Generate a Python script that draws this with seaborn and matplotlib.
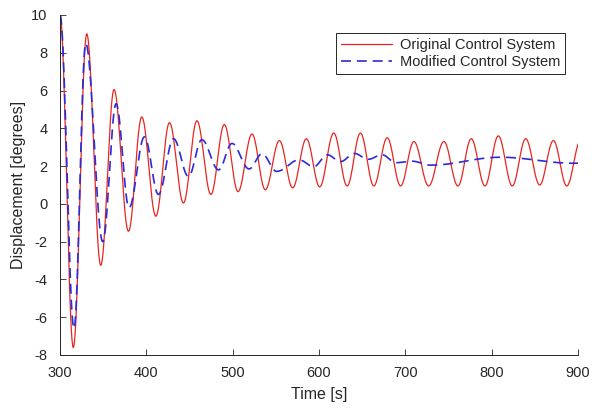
import numpy as np
import pandas as pd
import matplotlib
matplotlib.use("Agg")
import matplotlib.pyplot as plt
import seaborn as sns

# ---- data (turning points of each response) ----
orig_t = [300, 315.4, 331, 347.2, 362.6, 379.3, 394.7, 411, 426.8, 443, 458.6,
          474.8, 490.3, 506.2, 522.4, 537.8, 554.1, 569.5, 585.4, 600.8, 617.1,
          632.6, 648.0, 663.5, 679.0, 694.5, 709.9, 727, 744.7, 760.9, 776.4,
          792.2, 807.7, 823.9, 839.4, 855.6, 871.5, 887, 903]
orig_v = [10, -7.6, 9.0, -3.25, 6.05, -1.45, 4.6, -0.65, 4.3, 0.05, 4.4,
          0.5, 4.2, 0.65, 3.7, 0.75, 3.35, 0.85, 3.45, 0.9, 3.75,
          0.95, 3.75, 0.95, 3.5, 0.95, 3.3, 0.95, 3.3, 0.95, 3.45,
          0.95, 3.6, 0.95, 3.45, 1.0, 3.35, 0.95, 3.35]

mod_t = [300, 316.2, 329.8, 349.5, 365, 380, 397.8, 414, 431.5, 448.8, 464.3,
         483.7, 499.2, 519, 534, 551, 577, 594, 609.4, 625, 641, 657, 673,
         689, 708, 729, 810, 895, 910]
mod_v = [10, -6.6, 8.5, -2.0, 5.3, -0.2, 3.55, 0.5, 3.45, 1.45, 3.4,
         1.8, 3.2, 1.85, 2.65, 1.72, 2.33, 1.97, 2.6, 2.24, 2.67, 2.36, 2.6,
         2.18, 2.26, 2.05, 2.47, 2.15, 2.17]

series_names = ["Original Control System", "Modified Control System"]
x_ticks = [300, 400, 500, 600, 700, 800, 900]
y_ticks = [-8, -6, -4, -2, 0, 2, 4, 6, 8, 10]


def smooth_through(tk, vk, n=40):
    """Draw a smooth curve through the read turning points."""
    ts, vs = [], []
    for i in range(len(tk) - 1):
        s = np.linspace(0, 1, n, endpoint=False)
        w = (1 - np.cos(np.pi * s)) / 2
        ts.append(tk[i] + (tk[i + 1] - tk[i]) * s)
        vs.append(vk[i] + (vk[i + 1] - vk[i]) * w)
    ts.append([tk[-1]])
    vs.append([vk[-1]])
    return np.concatenate(ts), np.concatenate(vs)


t1, v1 = smooth_through(orig_t, orig_v)
t2, v2 = smooth_through(mod_t, mod_v)
df = pd.concat([
    pd.DataFrame({"t": t1, "v": v1, "series": series_names[0]}),
    pd.DataFrame({"t": t2, "v": v2, "series": series_names[1]}),
], ignore_index=True)

sns.set_theme(style="ticks")
plt.rcParams["font.family"] = ["Liberation Sans", "DejaVu Sans"]
plt.rcParams["axes.unicode_minus"] = False
dark = "#262626"
red = "#e8251f"
blue = "#2b2bd9"

fig = plt.figure(figsize=(5.92, 4.09), dpi=100)
ax = fig.add_axes([60 / 592, 1 - 355 / 409, 518 / 592, 340 / 409])

sns.lineplot(data=df, x="t", y="v", hue="series", style="series",
             hue_order=series_names, style_order=series_names,
             palette={series_names[0]: red, series_names[1]: blue},
             dashes={series_names[0]: "", series_names[1]: (6, 3.5)},
             sort=False, estimator=None, ax=ax)
lines = ax.get_lines()
lines[0].set_linewidth(0.9)
lines[1].set_linewidth(1.2)

ax.set_xlim(300, 900)
ax.set_ylim(-8, 10)
ax.set_xticks(x_ticks)
ax.set_yticks(y_ticks)
ax.tick_params(direction="in", length=4, width=0.6, colors=dark,
               labelsize=10.5)
ax.tick_params(axis="x", pad=8)
ax.tick_params(axis="y", pad=9)
for s in ["top", "right"]:
    ax.spines[s].set_visible(False)
for s in ["left", "bottom"]:
    ax.spines[s].set_color(dark)
    ax.spines[s].set_linewidth(0.7)

ax.set_xlabel("Time [s]", fontsize=11.5, color=dark, labelpad=5)
ax.set_ylabel("Displacement [degrees]", fontsize=11.5, color=dark, labelpad=4)

handles, labels = ax.get_legend_handles_labels()
leg = ax.legend(handles, labels, loc="upper right",
                bbox_to_anchor=(0.975, 0.947), borderaxespad=0,
                fontsize=10.5, frameon=True, fancybox=False,
                handlelength=3.5, handletextpad=0.5, borderpad=0.35,
                labelspacing=0.2)
leg.get_frame().set_edgecolor(dark)
leg.get_frame().set_linewidth(0.7)
leg.get_frame().set_alpha(1)
leg_lines = leg.get_lines()
leg_lines[0].set_linewidth(0.9)
leg_lines[1].set_linewidth(1.2)

fig.savefig("out.png", dpi=100)
